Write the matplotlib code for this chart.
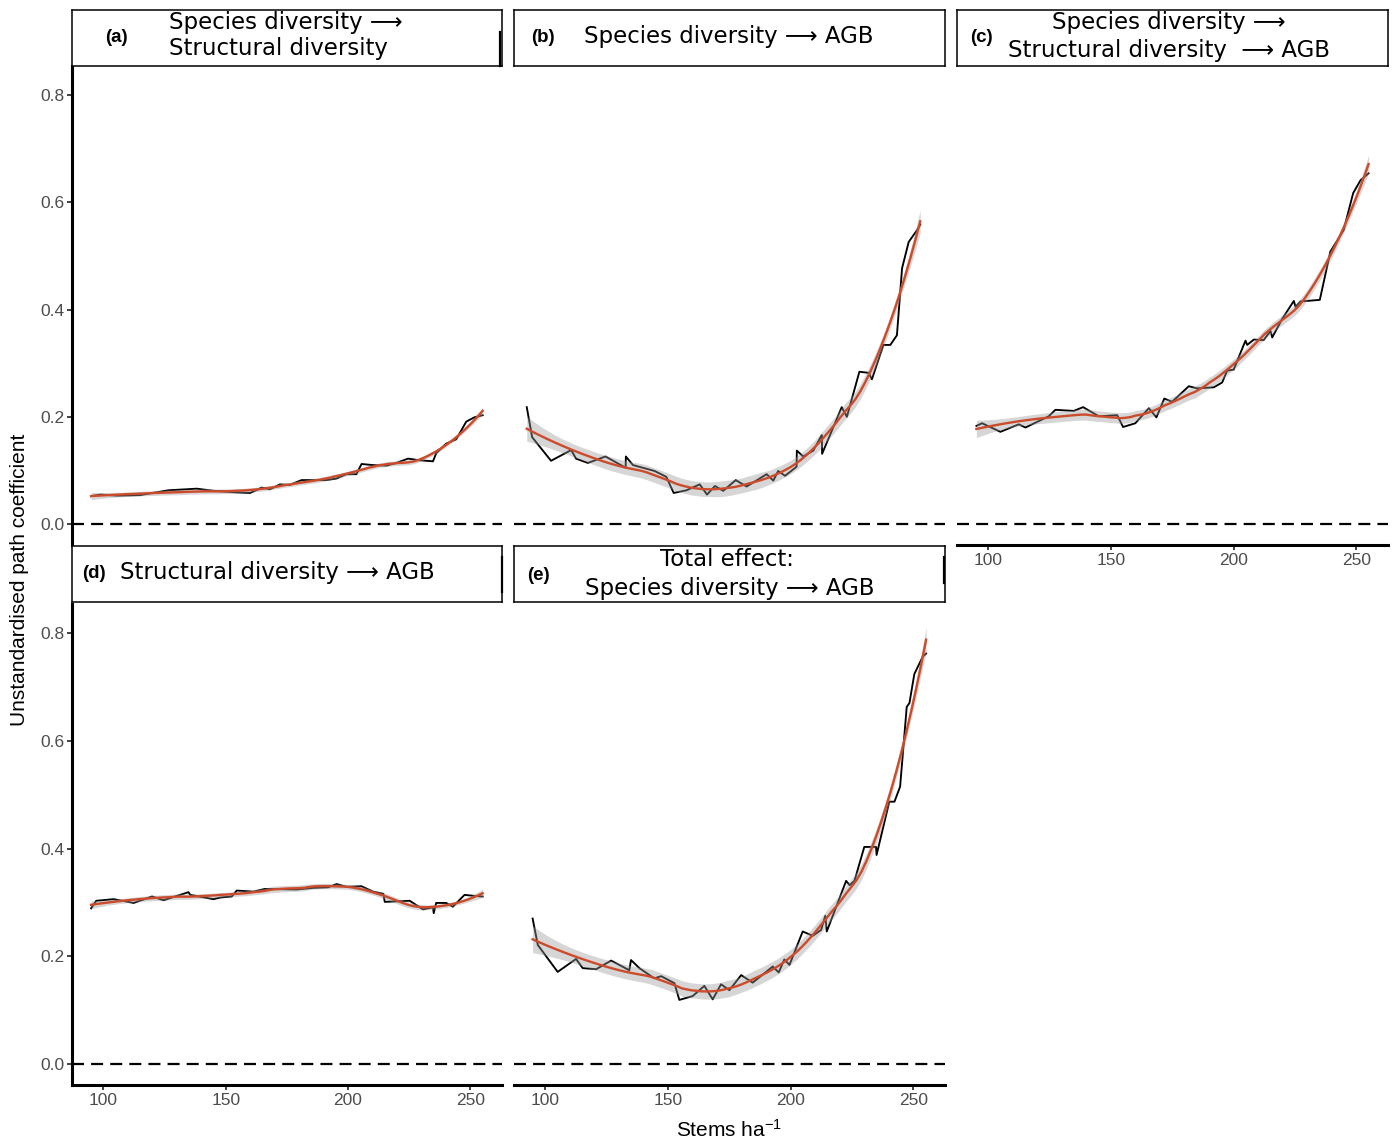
import numpy as np
import matplotlib
matplotlib.use("Agg")
import matplotlib.pyplot as plt
from matplotlib.lines import Line2D

# ---------------- data ----------------
a_x = [95.0, 98.8, 105.6, 115.0, 126.6, 138.2, 145.0, 154.5, 160.0, 164.7, 168.1, 172.2, 176.2,
       181.0, 185.7, 191.2, 195.3, 199.3, 203.4, 205.5, 210.2, 215.7, 219.7, 224.5, 229.2, 234.7,
       236.0, 240.1, 244.2, 248.3, 251.6, 255.0]
a_y = [0.052, 0.055, 0.053, 0.054, 0.063, 0.066, 0.062, 0.059, 0.058, 0.068, 0.065, 0.074, 0.073,
       0.082, 0.082, 0.082, 0.085, 0.093, 0.093, 0.112, 0.110, 0.109, 0.114, 0.122, 0.119, 0.117,
       0.132, 0.150, 0.158, 0.191, 0.199, 0.203]

b_x = [92.4, 94.6, 102.3, 110.5, 112.5, 117.3, 124.5, 132.7, 132.8, 135.7, 144.5, 149.3, 152.3,
       157.5, 162.9, 165.9, 169.1, 172.5, 177.6, 182.0, 190.2, 192.9, 194.9, 197.7, 202.4, 202.5,
       205.1, 209.2, 212.7, 212.8, 220.8, 222.9, 228.0, 231.7, 233.1, 237.8, 240.6, 243.3, 245.4,
       248.1, 251.5, 252.8]
b_y = [0.218, 0.162, 0.118, 0.138, 0.122, 0.114, 0.126, 0.105, 0.126, 0.110, 0.099, 0.088, 0.058,
       0.063, 0.074, 0.055, 0.071, 0.062, 0.082, 0.070, 0.093, 0.081, 0.099, 0.090, 0.107, 0.137,
       0.126, 0.137, 0.166, 0.131, 0.218, 0.200, 0.284, 0.282, 0.270, 0.334, 0.334, 0.352, 0.477,
       0.526, 0.548, 0.558]

c_x = [95.1, 97.4, 104.9, 112.4, 115.1, 124.6, 127.3, 134.8, 138.6, 145.0, 152.5, 154.9, 159.9,
       165.4, 168.5, 171.7, 174.9, 181.7, 185.1, 191.9, 195.3, 197.3, 200.0, 204.8, 205.5, 208.2,
       212.2, 215.0, 215.7, 219.7, 224.5, 225.2, 227.2, 235.1, 239.4, 244.8, 248.7, 251.7, 255.0]
c_y = [0.183, 0.188, 0.172, 0.186, 0.180, 0.201, 0.213, 0.211, 0.218, 0.201, 0.203, 0.181, 0.188,
       0.216, 0.199, 0.234, 0.228, 0.257, 0.253, 0.255, 0.264, 0.286, 0.288, 0.342, 0.334, 0.344,
       0.343, 0.360, 0.348, 0.382, 0.416, 0.405, 0.415, 0.418, 0.508, 0.548, 0.617, 0.641, 0.654]

d_x = [95.0, 97.1, 104.2, 112.4, 119.9, 124.6, 134.8, 135.5, 145.0, 147.7, 152.5, 154.5, 161.3,
       166.0, 179.0, 185.7, 191.8, 195.3, 199.3, 205.5, 210.2, 214.4, 215.0, 225.2, 230.6, 234.7,
       235.0, 236.0, 240.1, 242.8, 247.6, 251.7, 255.0]
d_y = [0.289, 0.303, 0.306, 0.299, 0.311, 0.304, 0.319, 0.314, 0.306, 0.309, 0.311, 0.322, 0.320,
       0.325, 0.324, 0.327, 0.328, 0.334, 0.329, 0.330, 0.320, 0.316, 0.301, 0.303, 0.287, 0.291,
       0.280, 0.299, 0.299, 0.292, 0.314, 0.312, 0.311]

e_x = [94.8, 96.9, 105.0, 112.5, 115.2, 120.7, 126.8, 134.2, 134.9, 138.3, 144.4, 147.2, 152.6,
       154.6, 160.0, 164.8, 168.2, 171.6, 175.0, 179.8, 184.5, 192.7, 195.1, 197.4, 199.5, 204.9,
       209.0, 212.4, 214.1, 214.7, 222.6, 224.0, 226.0, 230.0, 234.8, 235.0, 240.2, 242.3, 244.6,
       247.3, 248.4, 250.4, 253.8, 255.2]
e_y = [0.270, 0.221, 0.171, 0.195, 0.178, 0.176, 0.192, 0.174, 0.193, 0.178, 0.159, 0.163, 0.150,
       0.119, 0.126, 0.145, 0.120, 0.148, 0.137, 0.165, 0.151, 0.181, 0.170, 0.194, 0.184, 0.246,
       0.238, 0.249, 0.275, 0.246, 0.340, 0.332, 0.340, 0.403, 0.403, 0.388, 0.487, 0.487, 0.515,
       0.663, 0.670, 0.724, 0.756, 0.762]

tags = ["(a)", "(b)", "(c)", "(d)", "(e)"]
x_ticks = [100, 150, 200, 250]
y_ticks = [0.0, 0.2, 0.4, 0.6, 0.8]
x_title = r"Stems ha$^{-1}$"
y_title = "Unstandardised path coefficient"


# ---------------- loess smoother (as geom_smooth) ----------------
def loess(x, y, xe, span):
    x = np.asarray(x, float)
    y = np.asarray(y, float)
    n = len(x)
    q = int(np.floor(n * span))

    def row(x0):
        d = np.abs(x - x0)
        h = np.sort(d)[q - 1] * 1.0001
        w = np.clip(1 - (d / h) ** 3, 0, None) ** 3
        X = np.vstack([np.ones(n), x - x0, (x - x0) ** 2]).T
        XtW = X.T * w
        return np.linalg.solve(XtW @ X, XtW)[0]

    Ld = np.array([row(v) for v in x])
    IL = np.eye(n) - Ld
    M = IL.T @ IL
    d1 = np.trace(M)
    res = y - Ld @ y
    sigma = np.sqrt(res @ res / d1)
    Le = np.array([row(v) for v in xe])
    fit = Le @ y
    se = sigma * np.sqrt((Le ** 2).sum(1))
    return fit, se


# ---------------- figure ----------------
plt.rcParams["mathtext.fontset"] = "custom"
plt.rcParams["mathtext.rm"] = "Liberation Sans"
plt.rcParams["mathtext.default"] = "regular"

W, H = 1394, 1140
fig = plt.figure(figsize=(W / 100, H / 100), dpi=100)


def rect(x0, y0, x1, y1):
    return [x0 / W, 1 - y1 / H, (x1 - x0) / W, (y1 - y0) / H]


cols = [(72, 502), (514, 945), (957, 1388)]
strip_rows = [(10, 66), (546, 602)]
plot_rows = [(66, 545), (604, 1085)]
XLIM = (87.2, 262.9)
YLIM = (-0.039, 0.854)
RED = "#CC4B2A"
CI_MULT = 1.6
TICK_FONT = dict(family="Liberation Sans", size=12.5, color="#4d4d4d")

panels = [
    (0, 0, a_x, a_y, 0.5),
    (0, 1, b_x, b_y, 0.5),
    (0, 2, c_x, c_y, 0.5),
    (1, 0, d_x, d_y, 0.45),
    (1, 1, e_x, e_y, 0.5),
]

for i, (r, c, xs, ys, span) in enumerate(panels):
    x0, x1 = cols[c]
    y0, y1 = plot_rows[r]
    ax = fig.add_axes(rect(x0, y0, x1, y1))
    ax.set_xlim(*XLIM)
    ax.set_ylim(*YLIM)
    ax.axhline(0, color="black", lw=1.6, dashes=(5.4, 3.2), zorder=1)
    ax.plot(xs, ys, color="black", lw=1.35, zorder=2)
    xe = np.linspace(min(xs), max(xs), 80)
    fit, se = loess(xs, ys, xe, span)
    ax.fill_between(xe, fit - CI_MULT * se, fit + CI_MULT * se, color="#999999",
                    alpha=0.4, lw=0, zorder=3)
    ax.plot(xe, fit, color=RED, lw=1.7, zorder=4)

    for s in ax.spines.values():
        s.set_visible(False)
    show_y = c == 0
    show_x = (r == 1) or (c == 2)
    ax.set_yticks(y_ticks)
    ax.set_xticks(x_ticks)
    if show_y:
        ax.spines["left"].set_visible(True)
        ax.spines["left"].set_linewidth(2.2)
        ax.set_yticklabels([f"{v:.1f}" for v in y_ticks], fontdict=TICK_FONT)
        ax.tick_params(axis="y", length=3.5, width=1.3, color="#333333", pad=2)
    else:
        ax.tick_params(axis="y", left=False, labelleft=False)
    if show_x:
        ax.spines["bottom"].set_visible(True)
        ax.spines["bottom"].set_linewidth(2.2)
        ax.set_xticklabels([str(v) for v in x_ticks], fontdict=TICK_FONT)
        ax.tick_params(axis="x", length=3.5, width=1.3, color="#333333", pad=2)
    else:
        ax.tick_params(axis="x", bottom=False, labelbottom=False)

    # strip
    sy0, sy1 = strip_rows[r]
    sax = fig.add_axes(rect(x0, sy0, x1, sy1))
    sax.set_xticks([])
    sax.set_yticks([])
    for s in sax.spines.values():
        s.set_linewidth(1.1)
        s.set_color("black")

STRIP_FONT = dict(family="DejaVu Sans", size=16.5, color="black")
TAG_FONT = dict(family="Liberation Sans", size=13.5, weight="bold", color="black")


def ftext(px, py, s, ha="left", **kw):
    fig.text(px / W, 1 - py / H, s, ha=ha, va="center", **kw)


# (a)
ftext(116, 38, tags[0], ha="center", **TAG_FONT)
ftext(169, 23, "Species diversity \u27f6", **STRIP_FONT)
ftext(169, 49, "Structural diversity", **STRIP_FONT)
# (b)
ftext(543, 37, tags[1], ha="center", **TAG_FONT)
ftext(584, 37, "Species diversity \u27f6 AGB", **STRIP_FONT)
# (c)
ftext(981, 38, tags[2], ha="center", **TAG_FONT)
ftext(1169, 23, "Species diversity \u27f6", ha="center", **STRIP_FONT)
ftext(1169, 50, "Structural diversity  \u27f6 AGB", ha="center", **STRIP_FONT)
# (d)
ftext(94, 573, tags[3], ha="center", **TAG_FONT)
ftext(120, 573, "Structural diversity \u27f6 AGB", **STRIP_FONT)
# (e)
ftext(538, 576, tags[4], ha="center", **TAG_FONT)
ftext(727, 559, "Total effect:", ha="center", **STRIP_FONT)
ftext(730, 588, "Species diversity \u27f6 AGB", ha="center", **STRIP_FONT)

# small artefact edges on strips (as in reference)
for (px, py0, py1) in [(500.5, 32, 66), (501.5, 557, 592), (944.5, 557, 583)]:
    fig.add_artist(Line2D([px / W, px / W], [1 - py0 / H, 1 - py1 / H], color="black", lw=1.6))

# axis titles
fig.text(20 / W, 1 - 580 / H, y_title, rotation=90, ha="center", va="center",
         family="Liberation Sans", size=15, color="black")
fig.text(729 / W, 1 - 1130 / H, x_title, ha="center", va="center",
         family="Liberation Sans", size=15, color="black")

fig.savefig("out.png", dpi=100, facecolor="white")
